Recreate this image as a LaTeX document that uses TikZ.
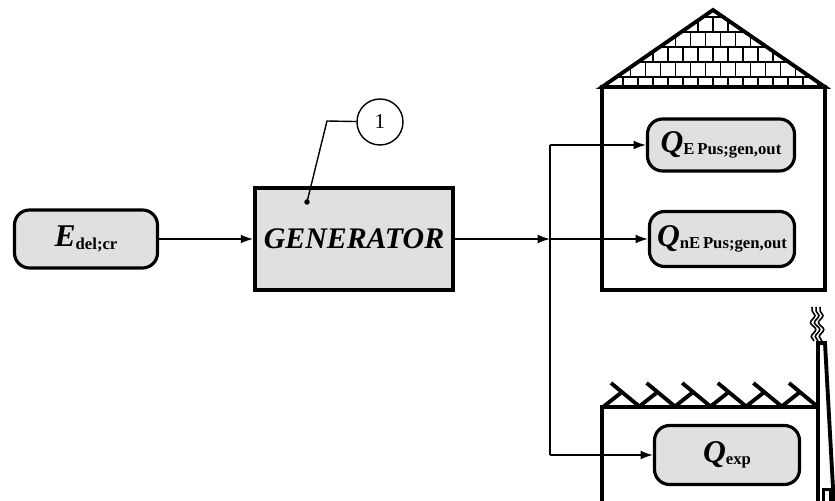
\documentclass[tikz,border=0pt]{standalone}
\usepackage{fontspec}
\setmainfont{Liberation Serif}
\usetikzlibrary{arrows.meta,decorations.pathmorphing}
\definecolor{boxgray}{HTML}{E0E0E0}
% big bold italic symbol with a small bold subscript
\newcommand{\qty}[2]{{\fontsize{18}{20}\selectfont\bfseries\itshape #1}{\fontsize{9.5}{11}\selectfont\bfseries\raisebox{-0.3ex}{#2}}}

\begin{document}
\begin{tikzpicture}[
    flowbox/.style={draw, line width=1.8pt, fill=boxgray, rounded corners=0.3cm, inner sep=0pt},
    flow/.style={line width=0.8pt, -{Latex[length=7pt,width=5pt]}},
    wall/.style={line width=2.2pt},
    brick/.style={line width=0.6pt}
  ]
  \clip (0,0) rectangle (16.7,10.02);

  % house with tiled roof
  \begin{scope}
    \clip (12.04,8.28) -- (14.26,9.82) -- (16.5,8.28) -- cycle;
    \foreach \y in {8.48,8.78,9.08,9.38,9.68}
      \draw[brick] (12,\y) -- (16.6,\y);
    \foreach \yb/\yt/\dx in {8.28/8.48/0.12, 8.48/8.78/0.27, 8.78/9.08/0.12, 9.08/9.38/0.27, 9.38/9.68/0.12, 9.68/9.98/0.27}
      \foreach \x in {0,...,15}
        \draw[brick] (12.04+\dx+0.3*\x,\yb) -- (12.04+\dx+0.3*\x,\yt);
  \end{scope}
  \draw[wall, line join=miter] (12.04,8.28) -- (14.26,9.82) -- (16.5,8.28) -- cycle;
  \draw[wall] (12.04,8.28) rectangle (16.5,4.22);

  % factory with saw-tooth roof and chimney
  \draw[wall] (12.04,-0.1) -- (12.04,1.88) -- (16.36,1.88);
  \foreach \b in {12.8,13.512,14.224,14.936,15.648,16.36} {
    \draw[wall] (\b-0.74,1.88) -- (\b-0.36,2.18);
    \draw[wall] (\b-0.58,2.36) -- (\b,1.88);
  }
  \draw[wall] (16.36,-0.1) -- (16.36,3.16) -- (16.5,3.16) -- (16.68,-0.1);
  \draw[wall] (16.47,0) -- (16.47,0.23) -- (16.62,0.23) -- (16.62,0);
  \foreach \x in {16.28,16.36,16.44}
    \draw[line width=0.9pt, decorate, decoration={snake, amplitude=1.4pt, segment length=8pt}] (\x,3.2) -- (\x-0.04,3.88);

  % blocks
  \node[flowbox, minimum width=2.86cm, minimum height=1.16cm] (edel) at (1.72,5.24) {\qty{E}{del;cr}};
  \node[draw, line width=2.2pt, fill=boxgray, minimum width=3.96cm, minimum height=2.04cm, inner sep=0pt] (gen) at (7.08,5.24)
    {\fontsize{17}{20}\selectfont\bfseries\itshape GENERATOR};
  \node[flowbox, minimum width=2.94cm, minimum height=1.04cm] (qe) at (14.42,7.12) {\qty{Q}{E\,Pus;gen,out}};
  \node[flowbox, minimum width=2.9cm, minimum height=1.1cm] (qn) at (14.44,5.24) {\qty{Q}{nE\,Pus;gen,out}};
  \node[flowbox, minimum width=2.9cm, minimum height=1.18cm] (qx) at (14.54,0.92) {\qty{Q}{exp}};

  % callout
  \node[draw, circle, line width=0.8pt, minimum size=0.92cm, inner sep=0pt, font=\fontsize{12}{14}\selectfont] (one) at (7.6,7.58) {1};
  \coordinate (bend) at (6.54,7.6);
  \fill (6.14,5.98) circle (0.055) coordinate (dot);
  \draw[line width=0.8pt] (one) -- (bend) -- (dot);

  % connections
  \coordinate (jn) at (11.0,5.24);
  \coordinate (jt) at (11.0,7.12);
  \coordinate (jb) at (11.0,0.92);
  \draw[flow] (edel) -- (gen);
  \draw[flow] (gen) -- (jn);
  \draw[flow] (jn) -- (qn);
  \draw[line width=0.8pt] (jt) -- (jb);
  \draw[flow] (jt) -- (qe);
  \draw[flow] (jb) -- (qx);
\end{tikzpicture}
\end{document}
